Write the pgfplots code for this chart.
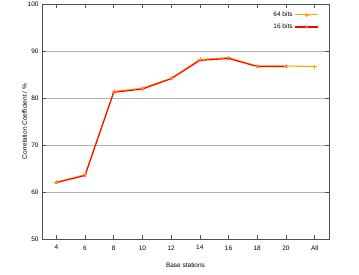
\documentclass[border=0pt]{standalone}
\usepackage{fontspec}
\setmainfont{Liberation Sans}
\usepackage{pgfplots}
\pgfplotsset{compat=1.18}
\definecolor{lorange}{RGB}{255,165,0}
\definecolor{lred}{RGB}{255,0,0}
\definecolor{xmark}{RGB}{255,100,100}
\definecolor{axgray}{RGB}{80,80,80}
\begin{document}
\begin{tikzpicture}
\begin{axis}[
  scale only axis,
  width=287bp, height=235bp,
  xmin=-0.5, xmax=9.5, ymin=50, ymax=100,
  xtick={0,...,9},
  xticklabels={4,6,8,10,12,14,16,18,20,All},
  ytick={50,60,70,80,90,100},
  ymajorgrids, grid style={gray!60, line width=0.6pt},
  axis line style={axgray, line width=0.8pt},
  tick style={axgray, line width=0.6pt},
  major tick length=4bp,
  tick align=inside,
  font=\fontsize{6.5}{7}\selectfont,
  /pgf/number format/assume math mode=true,
  xticklabel style={yshift=-3bp},
  xlabel={Base stations}, ylabel={Correlation Coefficient / \%},
  xlabel style={yshift=-6bp},
  ylabel style={yshift=-6bp},
  legend style={draw=none, fill=none, at={(0.975,0.985)}, anchor=north east,
    font=\fontsize{6.5}{7}\selectfont, row sep=2bp},
  legend plot pos=right,
  legend cell align=right,
  legend image code/.code={
    \draw[mark repeat=2,mark phase=2] plot coordinates {(0bp,0bp) (11.5bp,0bp) (23bp,0bp)};
  },
]
\addplot[color=lorange, line width=1.1pt, mark=+, mark size=2bp, mark options={line width=0.5pt}] coordinates {
 (0,62.1) (1,63.7) (2,81.4) (3,82.1) (4,84.2) (5,88.2) (6,88.6) (7,86.8) (8,86.8) (9,86.7)
};
\addlegendentry{64 bits}
\addplot[color=lred, line width=1.1pt, mark=x, mark size=2bp, mark options={line width=0.6pt, color=xmark}] coordinates {
 (0,62.0) (1,63.5) (2,81.2) (3,81.9) (4,84.1) (5,88.0) (6,88.4) (7,86.7) (8,86.7)
};
\addlegendentry{16 bits}
\end{axis}
\pgfresetboundingbox
\path (current axis.south west) ++(-42bp,-36bp) rectangle ++(359bp,275bp);
\end{tikzpicture}
\end{document}
